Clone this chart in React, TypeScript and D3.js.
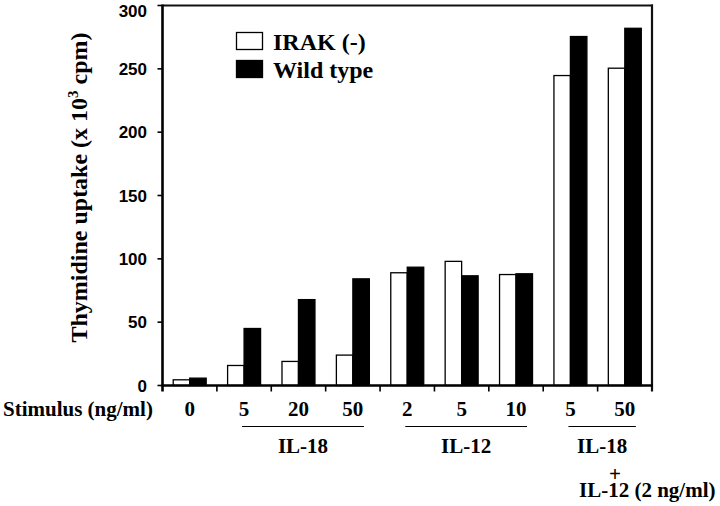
import React from "react";
import * as d3 from "d3";

const categories = ["0", "5", "20", "50", "2", "5", "10", "5", "50"];
const irak = [4.5, 15.8, 19, 24, 89, 98, 87.6, 244.7, 250.5];
const wildType = [5.8, 45, 67.8, 84.2, 93.4, 86.6, 88.2, 275.5, 282];
const yTicks = [0, 50, 100, 150, 200, 250, 300];
const seriesNames = ["IRAK (-)", "Wild type"];
const groups = [
  { label: "IL-18", from: 1, to: 3 },
  { label: "IL-12", from: 4, to: 6 },
  { label: "IL-18", from: 7, to: 8 },
];

const W = 720;
const H = 506;
const left = 162.5;
const right = 652;
const top = 5.5;
const bottom = 385.5;

const serif = "'Liberation Serif', 'Times New Roman', serif";
const sans = "'Liberation Sans', Arial, sans-serif";

export default function App() {
  const x = d3
    .scaleBand<number>()
    .domain(categories.map((_, i) => i))
    .range([left, right]);
  const bw = x.bandwidth();
  const x1 = d3
    .scaleBand<string>()
    .domain(seriesNames)
    .range([0, bw])
    .paddingOuter(0.65);
  const y = d3.scaleLinear().domain([0, 300]).range([bottom, top]);
  const cx = (i: number) => (x(i) as number) + bw / 2;

  const series = [
    { name: seriesNames[0], values: irak, fill: "#fff" },
    { name: seriesNames[1], values: wildType, fill: "#000" },
  ];

  return (
    <svg width={W} height={H} style={{ position: "absolute", left: 0, top: 0, background: "#fff" }}>
      {/* bars */}
      {series.map((s) =>
        s.values.map((v, i) => (
          <rect
            key={s.name + i}
            x={(x(i) as number) + (x1(s.name) as number)}
            y={y(v)}
            width={x1.bandwidth()}
            height={y(0) - y(v)}
            fill={s.fill}
            stroke="#000"
            strokeWidth={1.3}
          />
        ))
      )}
      {/* frame */}
      <line x1={left} x2={right + 1} y1={top} y2={top} stroke="#111" strokeWidth={2} />
      <line x1={right} x2={right} y1={top - 1} y2={bottom + 6} stroke="#111" strokeWidth={2.2} />
      <line x1={left} x2={left} y1={top - 1} y2={bottom + 6} stroke="#000" strokeWidth={2.6} />
      <line x1={left - 1} x2={right + 1} y1={bottom} y2={bottom} stroke="#000" strokeWidth={2.6} />
      {/* x ticks at category boundaries */}
      {categories.map((_, i) =>
        i === 0 ? null : (
          <line key={"xt" + i} x1={x(i)} x2={x(i)} y1={bottom} y2={bottom + 6} stroke="#000" strokeWidth={1.6} />
        )
      )}
      {/* y ticks */}
      {yTicks.map((t) => (
        <g key={"yt" + t}>
          <line x1={left - 5} x2={left} y1={y(t)} y2={y(t)} stroke="#000" strokeWidth={1.6} />
          <text
            x={147}
            y={Math.max(y(t), 11)}
            dy="0.36em"
            textAnchor="end"
            fontFamily={sans}
            fontWeight="bold"
            fontSize={17}
          >
            {t}
          </text>
        </g>
      ))}
      {/* y title */}
      <text
        transform={`translate(87,${(30 + 345) / 2}) rotate(-90)`}
        textAnchor="middle"
        fontFamily={serif}
        fontWeight="bold"
        fontSize={24}
      >
        Thymidine uptake (x 10
        <tspan dy={-9} fontSize={15}>3</tspan>
        <tspan dy={9}> cpm)</tspan>
      </text>
      {/* legend */}
      <rect x={236.5} y={32.5} width={26} height={17} fill="#fff" stroke="#000" strokeWidth={1.3} />
      <rect x={236.5} y={60.5} width={26} height={17} fill="#000" stroke="#000" strokeWidth={1.3} />
      <text x={273} y={50} fontFamily={serif} fontWeight="bold" fontSize={24}>
        {seriesNames[0]}
      </text>
      <text x={273} y={78} fontFamily={serif} fontWeight="bold" fontSize={24}>
        {seriesNames[1]}
      </text>
      {/* x labels */}
      <text x={3} y={416} fontFamily={serif} fontWeight="bold" fontSize={21}>
        Stimulus (ng/ml)
      </text>
      {categories.map((c, i) => (
        <text
          key={"xl" + i}
          x={cx(i)}
          y={416}
          textAnchor="middle"
          fontFamily={serif}
          fontWeight="bold"
          fontSize={21}
        >
          {c}
        </text>
      ))}
      {/* groups */}
      {groups.map((g, k) => {
        const x0 = cx(g.from) - 2;
        const xe = cx(g.to) + 11;
        return (
          <g key={"g" + k}>
            <line x1={x0} x2={xe} y1={426.5} y2={426.5} stroke="#000" strokeWidth={1.2} />
            <text
              x={(x0 + xe) / 2}
              y={452.5}
              textAnchor="middle"
              fontFamily={serif}
              fontWeight="bold"
              fontSize={21}
            >
              {g.label}
            </text>
          </g>
        );
      })}
      <text x={615} y={481} textAnchor="middle" fontFamily={serif} fontWeight="bold" fontSize={21}>
        +
      </text>
      <text x={579} y={497} fontFamily={serif} fontWeight="bold" fontSize={21}>
        IL-12 (2 ng/ml)
      </text>
    </svg>
  );
}
